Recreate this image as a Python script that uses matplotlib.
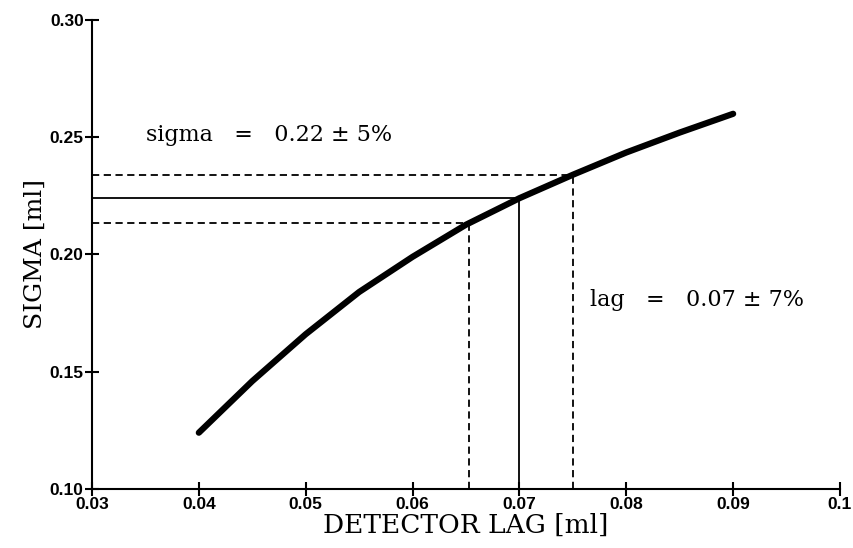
import matplotlib
matplotlib.use('Agg')
import matplotlib.pyplot as plt

# curve
lag = [0.040, 0.045, 0.050, 0.055, 0.060, 0.065, 0.070, 0.075, 0.080, 0.085, 0.090]
sigma = [0.124, 0.146, 0.166, 0.184, 0.199, 0.2127, 0.224, 0.234, 0.2435, 0.252, 0.260]

# working point and tolerance lines
lag_mid, lag_lo, lag_hi = 0.070, 0.0653, 0.075
sig_mid, sig_lo, sig_hi = 0.224, 0.2134, 0.234

xticks = [0.03, 0.04, 0.05, 0.06, 0.07, 0.08, 0.09, 0.10]
xlabels = ['0.03', '0.04', '0.05', '0.06', '0.07', '0.08', '0.09', '0.1']
yticks = [0.10, 0.15, 0.20, 0.25, 0.30]
ylabels = ['0.10', '0.15', '0.20', '0.25', '0.30']

fig = plt.figure(figsize=(8.54, 5.48), dpi=100)
ax = fig.add_axes([0.1077, 0.1077, 0.8759, 0.8558])

ax.plot(lag, sigma, color='black', lw=4.5, solid_capstyle='round', solid_joinstyle='round')

ax.plot([0.03, lag_mid], [sig_mid, sig_mid], color='black', lw=1.3)
ax.plot([lag_mid, lag_mid], [0.10, sig_mid], color='black', lw=1.3)
dash = dict(color='black', lw=1.3, dashes=(4, 2.5))
ax.plot([0.03, lag_lo], [sig_lo, sig_lo], **dash)
ax.plot([lag_lo, lag_lo], [0.10, sig_lo], **dash)
ax.plot([0.03, lag_hi], [sig_hi, sig_hi], **dash)
ax.plot([lag_hi, lag_hi], [0.10, sig_hi], **dash)

ax.text(0.0351, 0.251, 'sigma   =   0.22 \u00b1 5%', family='DejaVu Serif', fontsize=16,
        va='center', ha='left')
ax.text(0.0766, 0.1806, 'lag   =   0.07 \u00b1 7%', family='DejaVu Serif', fontsize=16,
        va='center', ha='left')

ax.set_xlim(0.03, 0.10)
ax.set_ylim(0.10, 0.30)
ax.set_xticks(xticks)
ax.set_xticklabels(xlabels)
ax.set_yticks(yticks)
ax.set_yticklabels(ylabels)
for lab in ax.get_xticklabels() + ax.get_yticklabels():
    lab.set_family('Liberation Sans')
    lab.set_fontweight('bold')
    lab.set_fontsize(12.5)

ax.spines['top'].set_visible(False)
ax.spines['right'].set_visible(False)
ax.spines['left'].set_linewidth(1.5)
ax.spines['bottom'].set_linewidth(1.5)
ax.tick_params(direction='inout', length=10, width=1.5, pad=1)

ax.set_xlabel('DETECTOR LAG [ml]', family='DejaVu Serif', fontsize=19, labelpad=0)
ax.set_ylabel('SIGMA [ml]', family='DejaVu Serif', fontsize=18, labelpad=2)

fig.savefig('out.png', dpi=100)
